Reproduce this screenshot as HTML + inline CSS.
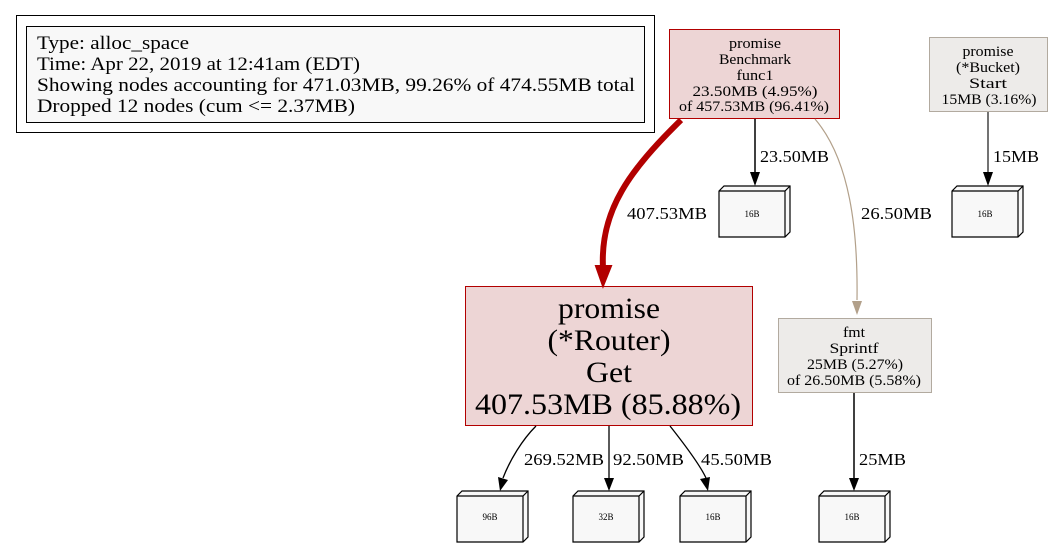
<!DOCTYPE html>
<html><head><meta charset="utf-8"><style>
html,body{margin:0;padding:0;background:#fff;}
svg{display:block;font-family:"Liberation Serif",serif;}
</style></head><body>
<svg width="1052" height="545" viewBox="0 0 1052 545" xmlns="http://www.w3.org/2000/svg">
<defs>
<g id="box3d">
<path d="M0,5 L5,0 L71,0 L71,46 L66,51 L0,51 Z" fill="#f8f8f8" stroke="#000" stroke-width="1.2"/>
<path d="M0,5 L66,5 L71,0 M66,5 L66,51" fill="none" stroke="#000" stroke-width="1.2"/>
</g>
</defs>
<!-- legend -->
<rect x="16.5" y="15.5" width="638" height="117" fill="#fff" stroke="#000"/>
<rect x="26.5" y="26.5" width="618" height="96" fill="#f8f8f8" stroke="#000"/>
<g font-size="19" fill="#000" lengthAdjust="spacingAndGlyphs">
<text x="37" y="49" textLength="152" lengthAdjust="spacingAndGlyphs">Type: alloc_space</text>
<text x="37" y="70" textLength="323" lengthAdjust="spacingAndGlyphs">Time: Apr 22, 2019 at 12:41am (EDT)</text>
<text x="37" y="91" textLength="598" lengthAdjust="spacingAndGlyphs">Showing nodes accounting for 471.03MB, 99.26% of 474.55MB total</text>
<text x="37" y="112" textLength="318" lengthAdjust="spacingAndGlyphs">Dropped 12 nodes (cum &lt;= 2.37MB)</text>
</g>
<!-- Benchmark func1 -->
<rect x="669.5" y="29.5" width="170" height="89" fill="#edd5d5" stroke="#b20000"/>
<g font-size="15" text-anchor="middle">
<text x="755" y="48" textLength="52" lengthAdjust="spacingAndGlyphs">promise</text>
<text x="755" y="64" textLength="72" lengthAdjust="spacingAndGlyphs">Benchmark</text>
<text x="755" y="80" textLength="37" lengthAdjust="spacingAndGlyphs">func1</text>
<text x="755" y="96" textLength="125" lengthAdjust="spacingAndGlyphs">23.50MB (4.95%)</text>
<text x="754" y="111" textLength="150" lengthAdjust="spacingAndGlyphs">of 457.53MB (96.41%)</text>
</g>
<!-- Bucket Start -->
<rect x="929.5" y="37.5" width="118" height="74" fill="#edebe9" stroke="#b2aa9f"/>
<g font-size="15" text-anchor="middle">
<text x="988" y="56" textLength="51" lengthAdjust="spacingAndGlyphs">promise</text>
<text x="988" y="72" textLength="64" lengthAdjust="spacingAndGlyphs">(*Bucket)</text>
<text x="988" y="88" textLength="38" lengthAdjust="spacingAndGlyphs">Start</text>
<text x="989" y="104" textLength="95" lengthAdjust="spacingAndGlyphs">15MB (3.16%)</text>
</g>
<!-- Router Get -->
<rect x="465.5" y="286.5" width="287" height="139" fill="#edd5d5" stroke="#b20000"/>
<g font-size="30" text-anchor="middle">
<text x="609" y="318" textLength="102" lengthAdjust="spacingAndGlyphs">promise</text>
<text x="609" y="350" textLength="123" lengthAdjust="spacingAndGlyphs">(*Router)</text>
<text x="609" y="382" textLength="46" lengthAdjust="spacingAndGlyphs">Get</text>
<text x="608" y="414" textLength="266" lengthAdjust="spacingAndGlyphs">407.53MB (85.88%)</text>
</g>
<!-- fmt Sprintf -->
<rect x="778.5" y="318.5" width="153" height="74" fill="#edebe9" stroke="#b2aa9f"/>
<g font-size="15" text-anchor="middle">
<text x="854" y="337" textLength="22" lengthAdjust="spacingAndGlyphs">fmt</text>
<text x="854" y="353" textLength="49" lengthAdjust="spacingAndGlyphs">Sprintf</text>
<text x="855" y="369" textLength="96" lengthAdjust="spacingAndGlyphs">25MB (5.27%)</text>
<text x="854" y="385" textLength="134" lengthAdjust="spacingAndGlyphs">of 26.50MB (5.58%)</text>
</g>
<!-- edges -->
<path d="M681,120 C630,170 600,210 603,268" fill="none" stroke="#b20000" stroke-width="6"/>
<path d="M596,266 L603,286 L611,266 Z" fill="#b20000" stroke="#b20000" stroke-width="2"/>
<g font-size="17">
<text x="627" y="219" textLength="80" lengthAdjust="spacingAndGlyphs">407.53MB</text>
<text x="760" y="162" textLength="69" lengthAdjust="spacingAndGlyphs">23.50MB</text>
<text x="861" y="219" textLength="71" lengthAdjust="spacingAndGlyphs">26.50MB</text>
<text x="993" y="162" textLength="46" lengthAdjust="spacingAndGlyphs">15MB</text>
<text x="524" y="465" textLength="80" lengthAdjust="spacingAndGlyphs">269.52MB</text>
<text x="613" y="465" textLength="71" lengthAdjust="spacingAndGlyphs">92.50MB</text>
<text x="701" y="465" textLength="71" lengthAdjust="spacingAndGlyphs">45.50MB</text>
<text x="859" y="465" textLength="47" lengthAdjust="spacingAndGlyphs">25MB</text>
</g>
<line x1="755" y1="119" x2="755" y2="172" stroke="#000" stroke-width="1.5"/>
<path d="M750,172 L755,186 L760,172 Z" fill="#000"/>
<path d="M815,119 C850,160 858,230 857,300" fill="none" stroke="#b2a08a" stroke-width="1.2"/>
<path d="M852,301 L857,315 L862,301 Z" fill="#b2a08a"/>
<line x1="988" y1="112" x2="988" y2="172" stroke="#444" stroke-width="1.5"/>
<path d="M983,172 L988,186 L993,172 Z" fill="#000"/>
<path d="M536,426 C522,440 510,460 503,478" fill="none" stroke="#000" stroke-width="1.3"/>
<path d="M498,477 L500,491 L508,480 Z" fill="#000"/>
<line x1="609" y1="426" x2="609" y2="478" stroke="#000" stroke-width="1.3"/>
<path d="M604,478 L609,491 L614,478 Z" fill="#000"/>
<path d="M670,426 C685,445 700,465 706,478" fill="none" stroke="#000" stroke-width="1.3"/>
<path d="M700,479 L708,491 L710,477 Z" fill="#000"/>
<line x1="854" y1="393" x2="854" y2="478" stroke="#000" stroke-width="1.5"/>
<path d="M849,478 L854,491 L859,478 Z" fill="#000"/>
<!-- leaf boxes -->
<use href="#box3d" x="719" y="186"/>
<use href="#box3d" x="952" y="186"/>
<use href="#box3d" x="457" y="491"/>
<use href="#box3d" x="573" y="491"/>
<use href="#box3d" x="680" y="491"/>
<use href="#box3d" x="819" y="491"/>
<g font-size="9" text-anchor="middle">
<text x="752" y="217">16B</text>
<text x="985" y="217">16B</text>
<text x="490" y="520">96B</text>
<text x="606" y="520">32B</text>
<text x="713" y="520">16B</text>
<text x="852" y="520">16B</text>
</g>
</svg>
</body></html>
